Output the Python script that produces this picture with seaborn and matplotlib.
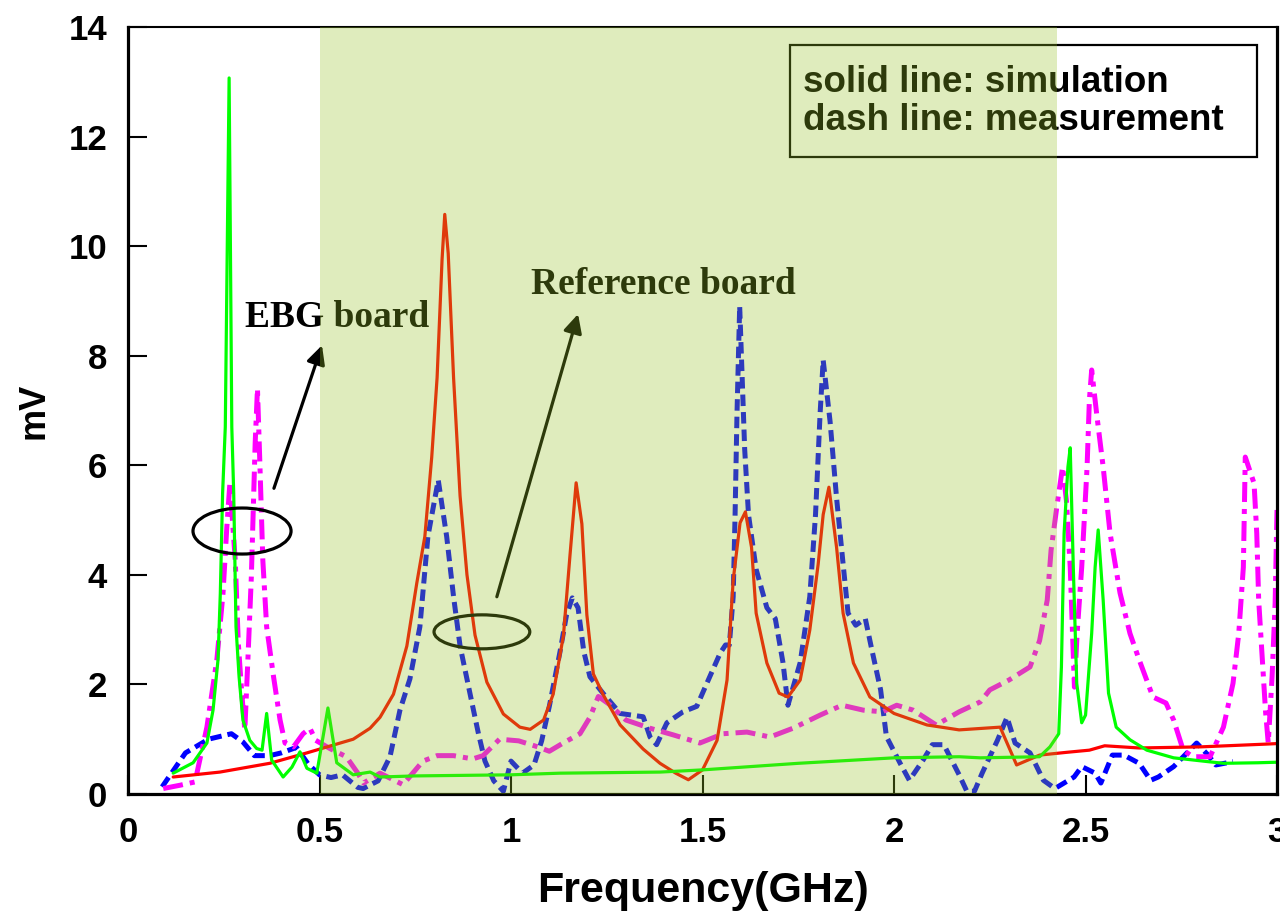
import matplotlib
matplotlib.use("Agg")
import matplotlib.pyplot as plt
import seaborn as sns
from matplotlib.patches import Ellipse, Rectangle

# ---- Reference board, simulation (solid red) ----
ref_sim_f = [0.118, 0.24, 0.37, 0.467, 0.52, 0.588, 0.632, 0.658, 0.693, 0.728, 0.754,
             0.775, 0.793, 0.807, 0.82, 0.827, 0.836, 0.85, 0.867, 0.885, 0.906, 0.937,
             0.98, 1.023, 1.05, 1.085, 1.11, 1.137, 1.154, 1.17, 1.185, 1.198, 1.215,
             1.24, 1.285, 1.345, 1.389, 1.43, 1.463, 1.5, 1.538, 1.564, 1.58, 1.598,
             1.612, 1.628, 1.64, 1.668, 1.7, 1.723, 1.755, 1.78, 1.802, 1.815, 1.83,
             1.85, 1.867, 1.894, 1.937, 2.0, 2.086, 2.17, 2.277, 2.32, 2.38, 2.45,
             2.51, 2.55, 2.64, 2.8, 2.97, 3.0]
ref_sim_v = [0.31, 0.40, 0.56, 0.75, 0.86, 1.0, 1.2, 1.4, 1.82, 2.7, 3.85,
             4.7, 6.15, 7.6, 9.76, 10.58, 9.87, 7.6, 5.44, 4.0, 2.9, 2.04,
             1.46, 1.22, 1.18, 1.35, 1.82, 2.9, 4.36, 5.68, 4.93, 3.27, 2.19,
             1.82, 1.26, 0.82, 0.56, 0.38, 0.26, 0.44, 0.98, 2.08, 3.9, 4.95,
             5.15, 4.5, 3.3, 2.39, 1.84, 1.77, 2.08, 2.99, 4.2, 5.1, 5.6,
             4.5, 3.3, 2.39, 1.77, 1.47, 1.26, 1.17, 1.22, 0.53, 0.71, 0.76,
             0.8, 0.88, 0.84, 0.86, 0.91, 0.92]

# ---- Reference board, measurement (dashed blue) ----
ref_meas_f = [0.089, 0.15, 0.21, 0.27, 0.30, 0.33, 0.37, 0.40, 0.44, 0.47, 0.50, 0.53,
              0.56, 0.60, 0.614, 0.653, 0.684, 0.71, 0.736, 0.762, 0.783, 0.81, 0.832,
              0.85, 0.867, 0.893, 0.915, 0.932, 0.955, 0.98, 1.0, 1.03, 1.06, 1.08, 1.1,
              1.128, 1.145, 1.16, 1.175, 1.19, 1.206, 1.24, 1.285, 1.345, 1.363, 1.38,
              1.407, 1.449, 1.485, 1.51, 1.546, 1.56, 1.57, 1.58, 1.585, 1.59, 1.597,
              1.61, 1.62, 1.64, 1.668, 1.69, 1.71, 1.723, 1.755, 1.78, 1.795, 1.807,
              1.815, 1.833, 1.85, 1.867, 1.88, 1.9, 1.925, 1.94, 1.965, 1.98, 2.016,
              2.04, 2.076, 2.1, 2.13, 2.17, 2.19, 2.21, 2.23, 2.27, 2.295, 2.316, 2.355,
              2.39, 2.42, 2.47, 2.49, 2.525, 2.54, 2.57, 2.6, 2.64, 2.67, 2.69, 2.73,
              2.79, 2.82, 2.84, 2.885]
ref_meas_v = [0.13, 0.75, 1.0, 1.1, 0.95, 0.7, 0.7, 0.75, 0.85, 0.55, 0.35, 0.3,
              0.35, 0.12, 0.1, 0.24, 0.68, 1.53, 2.1, 3.05, 4.7, 5.73, 4.7,
              3.6, 2.7, 1.83, 1.1, 0.6, 0.24, 0.05, 0.6, 0.38, 0.53, 0.97, 1.6,
              2.6, 3.27, 3.58, 3.4, 2.6, 2.14, 1.84, 1.47, 1.41, 1.04, 0.9,
              1.3, 1.5, 1.6, 2.0, 2.57, 2.72, 2.72, 3.6, 5.1, 6.95, 8.9,
              6.3, 5.1, 4.1, 3.4, 3.2, 2.4, 1.62, 2.4, 3.6, 5.1, 6.95,
              7.92, 6.8, 5.4, 4.2, 3.3, 3.08, 3.2, 2.7, 1.9, 1.05, 0.56,
              0.25, 0.62, 0.9, 0.9, 0.35, 0.05, 0.05, 0.38, 0.98, 1.4, 0.93, 0.75,
              0.25, 0.1, 0.31, 0.5, 0.38, 0.2, 0.71, 0.71, 0.56, 0.25, 0.31, 0.5,
              0.93, 0.71, 0.53, 0.59]

# ---- EBG board, simulation (solid green) ----
ebg_sim_f = [0.118, 0.17, 0.206, 0.222, 0.235, 0.241, 0.247, 0.254, 0.264, 0.271, 0.276,
             0.282, 0.29, 0.30, 0.318, 0.336, 0.35, 0.362, 0.375, 0.405, 0.428, 0.449,
             0.467, 0.493, 0.522, 0.545, 0.588, 0.632, 0.658, 0.75, 1.0, 1.128, 1.389,
             1.5, 1.75, 2.0, 2.17, 2.225, 2.38, 2.407, 2.43, 2.437, 2.444, 2.454, 2.46,
             2.468, 2.477, 2.49, 2.5, 2.516, 2.525, 2.533, 2.546, 2.56, 2.58, 2.616,
             2.66, 2.73, 2.82, 2.86, 2.95, 3.0]
ebg_sim_v = [0.38, 0.57, 0.93, 1.53, 2.45, 3.66, 5.49, 6.7, 13.07, 6.7, 5.49,
             3.05, 2.14, 1.35, 0.98, 0.83, 0.8, 1.47, 0.62, 0.31, 0.49, 0.77,
             0.47, 0.38, 1.57, 0.57, 0.35, 0.4, 0.31, 0.33, 0.35, 0.38, 0.40,
             0.44, 0.56, 0.66, 0.68, 0.66, 0.68, 0.86, 1.1, 2.32, 4.76, 5.97, 6.32,
             4.14, 2.02, 1.3, 1.44, 2.93, 4.14, 4.82, 3.54, 1.84, 1.22, 0.99,
             0.8, 0.66, 0.59, 0.56, 0.57, 0.58]

# ---- EBG board, measurement (dash-dot magenta) ----
ebg_meas_f = [0.092, 0.136, 0.175, 0.206, 0.232, 0.248, 0.258, 0.266, 0.28, 0.288, 0.297,
              0.305, 0.313, 0.322, 0.327, 0.332, 0.338, 0.344, 0.352, 0.362, 0.38, 0.397,
              0.41, 0.432, 0.457, 0.475, 0.49, 0.527, 0.57, 0.60, 0.615, 0.658, 0.718,
              0.77, 0.807, 0.85, 0.9, 0.927, 0.97, 1.02, 1.07, 1.1, 1.136, 1.18, 1.206,
              1.228, 1.258, 1.3, 1.363, 1.423, 1.493, 1.554, 1.616, 1.676, 1.736, 1.807,
              1.864, 1.92, 1.97, 2.007, 2.05, 2.11, 2.17, 2.225, 2.25, 2.30, 2.355, 2.38,
              2.4, 2.41, 2.425, 2.44, 2.45, 2.46, 2.466, 2.471, 2.478, 2.49, 2.504, 2.51,
              2.516, 2.53, 2.546, 2.564, 2.59, 2.616, 2.64, 2.676, 2.71, 2.73, 2.755,
              2.78, 2.825, 2.86, 2.885, 2.9, 2.912, 2.917, 2.94, 2.947, 2.952, 2.96,
              2.97, 2.977, 2.987, 2.995, 3.0]
ebg_meas_v = [0.1, 0.16, 0.22, 1.22, 2.45, 3.66, 4.87, 5.67, 4.27, 2.75, 1.84,
              1.17, 2.45, 3.96, 5.18, 6.4, 7.4, 6.1, 4.27, 3.05, 2.14, 1.35,
              0.93, 0.86, 1.1, 1.2, 0.98, 0.83, 0.68, 0.38, 0.2, 0.38, 0.17,
              0.6, 0.7, 0.7, 0.64, 0.7, 1.0, 0.97, 0.86, 0.78, 0.93, 1.1, 1.4,
              1.78, 1.63, 1.35, 1.2, 1.08, 0.93, 1.1, 1.13, 1.04, 1.2, 1.44,
              1.62, 1.53, 1.5, 1.62, 1.53, 1.26, 1.5, 1.68, 1.9, 2.08, 2.32, 2.8,
              3.54, 4.45, 5.24, 5.97, 5.36, 4.14, 2.93, 1.95, 2.93, 4.14, 5.97, 7.19,
              7.74, 6.88, 5.97, 4.76, 3.67, 2.93, 2.45, 1.77, 1.66, 1.35, 0.8,
              0.68, 0.68, 1.22, 2.02, 2.93, 4.14, 6.15, 5.67, 4.76, 3.54, 2.63,
              1.5, 0.93, 2.14, 3.49, 5.24]

x_ticks = [0, 0.5, 1, 1.5, 2, 2.5, 3]
x_tick_labels = ["0", "0.5", "1", "1.5", "2", "2.5", "3"]
y_ticks = [0, 2, 4, 6, 8, 10, 12, 14]

band_start, band_end = 0.5, 2.425

sns.set_style("ticks")
plt.rcParams["font.family"] = ["Liberation Sans", "DejaVu Sans"]
plt.rcParams["font.weight"] = "bold"
plt.rcParams["text.color"] = "black"
plt.rcParams["axes.labelcolor"] = "black"
plt.rcParams["xtick.color"] = "black"
plt.rcParams["ytick.color"] = "black"

fig = plt.figure(figsize=(12.8, 9.16), dpi=100)
ax = fig.add_axes([0.1, 0.1332, 0.8977, 0.8373])

sns.lineplot(x=ref_meas_f, y=ref_meas_v, color="#0000ff", linewidth=3.6,
             estimator=None, sort=False, ax=ax)
ax.lines[-1].set_linestyle((0, (2.3, 1.2)))
sns.lineplot(x=ebg_meas_f, y=ebg_meas_v, color="#ff00ff", linewidth=3.6,
             estimator=None, sort=False, ax=ax)
ax.lines[-1].set_linestyle((0, (4.0, 1.4, 1.0, 1.4)))
sns.lineplot(x=ref_sim_f, y=ref_sim_v, color="#ff0000", linewidth=2.3,
             estimator=None, sort=False, ax=ax)
sns.lineplot(x=ebg_sim_f, y=ebg_sim_v, color="#00ff00", linewidth=2.3,
             estimator=None, sort=False, ax=ax)

ax.set_xlim(0, 3)
ax.set_ylim(0, 14)
ax.set_xticks(x_ticks)
ax.set_xticklabels(x_tick_labels)
ax.set_yticks(y_ticks)
ax.tick_params(direction="in", length=14, width=1.5, labelsize=25,
               color="black", labelcolor="black")
ax.tick_params(axis="y", pad=15)
ax.tick_params(axis="x", pad=16)
for lbl in ax.get_xticklabels() + ax.get_yticklabels():
    lbl.set_fontweight("bold")

ax.set_xlabel("Frequency(GHz)", fontsize=31, fontweight="bold", labelpad=16,
              color="black")
ax.set_ylabel("mV", fontsize=26, fontweight="bold", labelpad=12, color="black")

for name, sp in ax.spines.items():
    sp.set_color("black")
    sp.set_linewidth(1.5 if name == "top" else 2.3)

# note box explaining the line styles
ax.add_patch(Rectangle((0.576, 0.8305), 0.4066, 0.146, transform=ax.transAxes,
                       facecolor="white", edgecolor="black", lw=1.6, zorder=5))
ax.text(0.5875, 0.915, "solid line: simulation", transform=ax.transAxes,
        fontsize=26.5, fontweight="bold", va="baseline", color="black", zorder=6)
ax.text(0.5875, 0.8657, "dash line: measurement", transform=ax.transAxes,
        fontsize=26.5, fontweight="bold", va="baseline", color="black", zorder=6)

# callouts
serif = ["Liberation Serif", "DejaVu Serif"]
ax.text(0.3055, 8.52, "EBG board", family=serif, fontsize=27, fontweight="bold",
        va="baseline", color="black", zorder=6)
ax.text(1.052, 9.12, "Reference board", family=serif, fontsize=27, fontweight="bold",
        va="baseline", color="black", zorder=6)
ax.add_patch(Ellipse((0.2977, 4.8), 0.256, 0.84, fill=False, ec="black", lw=2.3, zorder=6))
ax.add_patch(Ellipse((0.924, 2.96), 0.25, 0.62, fill=False, ec="black", lw=2.3, zorder=6))
ax.annotate("", xy=(0.5065, 8.19), xytext=(0.381, 5.58),
            arrowprops=dict(arrowstyle="-|>", color="black", lw=2.3,
                            mutation_scale=28, shrinkA=0, shrinkB=0), zorder=6)
ax.annotate("", xy=(1.175, 8.76), xytext=(0.963, 3.6),
            arrowprops=dict(arrowstyle="-|>", color="black", lw=2.3,
                            mutation_scale=28, shrinkA=0, shrinkB=0), zorder=6)

# translucent highlight over the band region
ax.axvspan(band_start, band_end, facecolor=(150 / 255, 193 / 255, 37 / 255),
           alpha=0.3, lw=0, zorder=20)

fig.savefig("out.png", dpi=100)
